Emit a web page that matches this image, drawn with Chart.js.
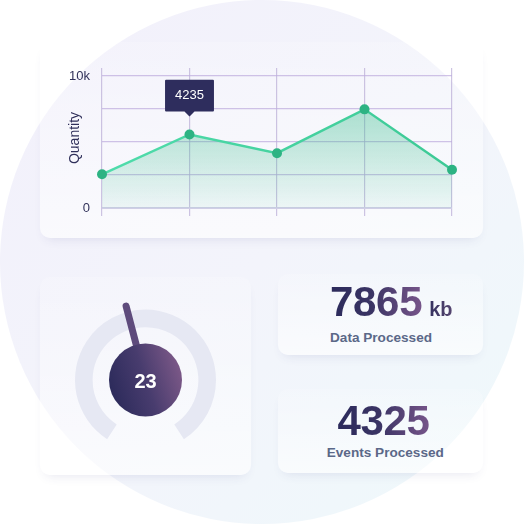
<!DOCTYPE html>
<html>
<head>
<meta charset="utf-8">
<script src="https://cdn.jsdelivr.net/npm/chart.js@4.4.1/dist/chart.umd.min.js"></script>
<style>
  html, body { margin: 0; padding: 0; width: 524px; height: 524px; overflow: hidden; background: #ffffff; font-family: "Liberation Sans", Arial, sans-serif; }
  #bg { position: absolute; left: 0; top: 0; width: 524px; height: 524px; border-radius: 50%;
        background: linear-gradient(135deg, #f2f0fb 0%, #f3f4fb 50%, #eef9fb 100%); }
  .card { position: absolute; border-radius: 10px;
          background: linear-gradient(to bottom, rgba(255,255,255,0.15), rgba(255,255,255,0.6));
          box-shadow: 0 6px 12px -6px rgba(60,60,130,0.14); }
  canvas { position: absolute; }
  .num { position: absolute; white-space: nowrap; font-weight: bold; font-size: 42px; line-height: 42px; letter-spacing: -0.3px; }
  .grad { background: linear-gradient(90deg, #2b2a5b 0%, #3a3464 45%, #77558a 100%);
          -webkit-background-clip: text; background-clip: text; color: transparent; }
  .unit { font-size: 20px; line-height: 1; margin-left: 7px; letter-spacing: 0;
          background: linear-gradient(90deg, #34315f 0%, #564670 100%);
          -webkit-background-clip: text; background-clip: text; color: transparent; }
  .lbl { position: absolute; white-space: nowrap; font-weight: bold; font-size: 13.6px; line-height: 13.6px; color: #5b6888; }
</style>
</head>
<body>
<div id="bg"></div>
<div class="card" style="left:40px;top:42px;width:443px;height:196px;"></div>
<div class="card" style="left:40px;top:277px;width:211px;height:198px;"></div>
<div class="card" style="left:278px;top:274px;width:205px;height:81px;"></div>
<div class="card" style="left:278px;top:389px;width:205px;height:84px;"></div>

<canvas id="line" width="444" height="198" style="left:40px;top:40px;"></canvas>
<canvas id="gauge" width="210" height="200" style="left:40px;top:275px;"></canvas>

<div id="stat0" class="num" style="left:330px;top:281px;"></div>
<div id="lbl0" class="lbl" style="left:330px;top:330.5px;"></div>
<div id="stat1" class="num" style="left:283.5px;top:400px;width:200px;text-align:center;"></div>
<div id="lbl1" class="lbl" style="left:285.3px;top:446px;width:200px;text-align:center;"></div>

<script>
// ---------- data ----------
const categories   = ['1', '2', '3', '4', '5'];
const quantity     = [2550, 5570, 4150, 7470, 2900];
const yTickValues  = [0, 2500, 5000, 7500, 10000];
const yTickLabels  = ['0', '', '', '', '10k'];
const yAxisTitle   = 'Quantity';
const yAxisMax     = 10600;
const tooltipIndex = 1;
const tooltipLabel = '4235';

const gaugeMax     = 100;
const needleValue  = 45;
const gaugeReading = '23';

const statValues   = ['7865', '4325'];
const statUnits    = ['kb', ''];
const statLabels   = ['Data Processed', 'Events Processed'];

// ---------- stats text ----------
statValues.forEach((v, i) => {
  const el = document.getElementById('stat' + i);
  const n = document.createElement('span'); n.className = 'grad'; n.textContent = v; el.appendChild(n);
  if (statUnits[i]) { const u = document.createElement('span'); u.className = 'unit'; u.textContent = statUnits[i]; el.appendChild(u); }
  document.getElementById('lbl' + i).textContent = statLabels[i];
});

const FONT = 'Liberation Sans';
const gridColor = 'rgba(190,172,222,0.72)';

// ---------- line chart ----------
const lineChart = new Chart(document.getElementById('line'), {
  type: 'line',
  data: {
    labels: categories,
    datasets: [{
      data: quantity,
      tension: 0,
      borderWidth: 2.5,
      borderColor: (ctx) => {
        const a = ctx.chart.chartArea;
        if (!a) return '#3fcf9c';
        const g = ctx.chart.ctx.createLinearGradient(a.left, 0, a.right, 0);
        g.addColorStop(0, '#4fdcab'); g.addColorStop(1, '#3cc995');
        return g;
      },
      fill: 'origin',
      backgroundColor: (ctx) => {
        const ch = ctx.chart; const a = ch.chartArea; const ys = ch.scales.y;
        if (!a || !ys) return 'rgba(47,185,135,0.2)';
        const top = ys.getPixelForValue(Math.max(...quantity));
        const g = ch.ctx.createLinearGradient(0, top, 0, a.bottom);
        g.addColorStop(0, 'rgba(47,185,135,0.38)');
        g.addColorStop(1, 'rgba(47,185,135,0.06)');
        return g;
      },
      pointRadius: 5, pointHoverRadius: 5,
      pointBorderWidth: 0, pointHoverBorderWidth: 0,
      pointBackgroundColor: '#2db383', pointBorderColor: '#2db383',
      pointHoverBackgroundColor: '#2db383'
    }]
  },
  options: {
    responsive: false, animation: false, events: [],
    layout: { padding: { left: 27, right: 32, top: 28, bottom: 0 } },
    plugins: {
      legend: { display: false },
      tooltip: {
        enabled: true,
        backgroundColor: '#2e2d5d',
        bodyColor: '#ffffff',
        bodyFont: { size: 13, family: FONT },
        padding: { top: 8, bottom: 8, left: 10, right: 10 },
        caretSize: 5, caretPadding: 18, cornerRadius: 1,
        displayColors: false, xAlign: 'center', yAlign: 'bottom',
        callbacks: { title: () => '', label: () => tooltipLabel }
      }
    },
    scales: {
      x: {
        offset: false,
        grid: { color: 'rgba(188,176,216,0.75)', lineWidth: 1.2, drawTicks: true, tickLength: 8, offset: false },
        border: { display: false },
        ticks: { display: false },
        afterFit(s) { s.height = 30; }
      },
      y: {
        min: 0, max: yAxisMax,
        afterBuildTicks(s) { s.ticks = yTickValues.map(v => ({ value: v })); },
        ticks: { callback: (v, i) => yTickLabels[i], padding: 12, color: '#32325a', font: { size: 13, family: FONT } },
        grid: {
          drawTicks: false,
          color: (c) => c.tick && c.tick.value === 0 ? 'rgba(208,206,230,1)' : gridColor,
          lineWidth: (c) => c.tick && c.tick.value === 0 ? 2 : 1.2
        },
        border: { display: false },
        title: { display: true, text: yAxisTitle, color: '#2f2f5a', font: { size: 14, family: FONT }, padding: { top: 0, bottom: 0 } },
        afterFit(s) { s.width = 35; }
      }
    }
  }
});
lineChart.tooltip.setActiveElements([{ datasetIndex: 0, index: tooltipIndex }], { x: 0, y: 0 });
lineChart.update();

// ---------- gauge ----------
const needlePlugin = {
  id: 'needle',
  afterDatasetsDraw(chart) {
    const arc = chart.getDatasetMeta(0).data[0];
    const { x, y, startAngle, endAngle } = arc.getProps(['x', 'y', 'startAngle', 'endAngle'], true);
    const ctx = chart.ctx;
    const ang = startAngle + (endAngle - startAngle) * (needleValue / gaugeMax);
    ctx.save();
    ctx.lineCap = 'round';
    ctx.lineWidth = 7;
    ctx.strokeStyle = '#5e4b7c';
    ctx.beginPath();
    ctx.moveTo(x, y);
    ctx.lineTo(x + Math.cos(ang) * 76.5, y + Math.sin(ang) * 76.5);
    ctx.stroke();
    const r = 36.5;
    const g = ctx.createLinearGradient(x - r, y + 12, x + r, y - 12);
    g.addColorStop(0, '#2b2a5a'); g.addColorStop(0.5, '#483c6e'); g.addColorStop(1, '#7d5988');
    ctx.fillStyle = g;
    ctx.beginPath(); ctx.arc(x, y, r, 0, Math.PI * 2); ctx.fill();
    ctx.fillStyle = '#ffffff';
    ctx.font = 'bold 20px "' + FONT + '"';
    ctx.textAlign = 'center'; ctx.textBaseline = 'alphabetic';
    ctx.fillText(gaugeReading, x, y + 8.3);
    ctx.restore();
  }
};
new Chart(document.getElementById('gauge'), {
  type: 'doughnut',
  data: { labels: ['range'], datasets: [{ data: [gaugeMax], backgroundColor: '#e6e8f3', borderWidth: 0 }] },
  options: {
    responsive: false, animation: false, events: [],
    rotation: -147, circumference: 294, cutout: '75%',
    layout: { padding: { left: 35, right: 34, top: 34.5, bottom: 35.8 } },
    plugins: { legend: { display: false }, tooltip: { enabled: false } }
  },
  plugins: [needlePlugin]
});
</script>
</body>
</html>
